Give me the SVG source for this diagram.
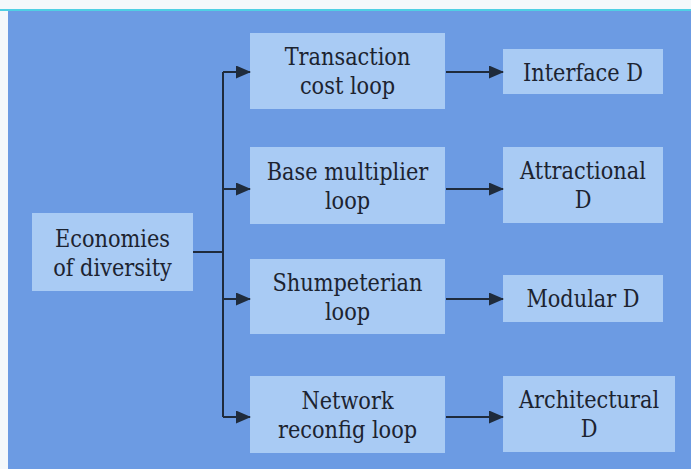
<svg xmlns="http://www.w3.org/2000/svg" width="691" height="469" viewBox="0 0 691 469">
<defs>
<marker id="ah" markerWidth="15" markerHeight="13" refX="14" refY="6.5" orient="auto" markerUnits="userSpaceOnUse">
<path d="M0,0 L15,6.5 L0,13 Z" fill="#1f2b3c"/>
</marker>
<style>
.bg{fill:#6c9be3}
.box{fill:#a9cbf4}
.t{font-family:"DejaVu Serif","Liberation Serif",serif;font-size:24px;fill:#1c2330;text-anchor:middle}
.c{fill:none;stroke:#1f2b3c;stroke-width:2}
</style>
</defs>
<rect x="0" y="0" width="691" height="469" fill="#f4f8fb"/>
<rect x="0" y="9" width="691" height="2" fill="#4fd0e4"/>
<rect class="bg" x="8" y="11" width="683" height="458"/>

<g id="economies">
<rect class="box" x="32" y="213" width="161" height="78"/>
<g transform="translate(112.5,0) scale(0.87,1)">
<text class="t" x="0" y="247">Economies</text>
<text class="t" x="0" y="276">of diversity</text>
</g>
</g>

<g id="transaction">
<rect class="box" x="250" y="33" width="195" height="76"/>
<g transform="translate(347.5,0) scale(0.87,1)">
<text class="t" x="0" y="65">Transaction</text>
<text class="t" x="0" y="94">cost loop</text>
</g>
</g>
<g id="base">
<rect class="box" x="250" y="147" width="195" height="77"/>
<g transform="translate(347.5,0) scale(0.87,1)">
<text class="t" x="0" y="180">Base multiplier</text>
<text class="t" x="0" y="209">loop</text>
</g>
</g>
<g id="shumpeterian">
<rect class="box" x="250" y="259" width="195" height="75"/>
<g transform="translate(347.5,0) scale(0.87,1)">
<text class="t" x="0" y="291">Shumpeterian</text>
<text class="t" x="0" y="320">loop</text>
</g>
</g>
<g id="network">
<rect class="box" x="250" y="376" width="195" height="77"/>
<g transform="translate(347.5,0) scale(0.87,1)">
<text class="t" x="0" y="409">Network</text>
<text class="t" x="0" y="438">reconfig loop</text>
</g>
</g>

<g id="interface">
<rect class="box" x="503" y="49" width="160" height="45"/>
<g transform="translate(583,0) scale(0.87,1)">
<text class="t" x="0" y="81">Interface D</text>
</g>
</g>
<g id="attractional">
<rect class="box" x="503" y="147" width="160" height="76"/>
<g transform="translate(583,0) scale(0.87,1)">
<text class="t" x="0" y="179">Attractional</text>
<text class="t" x="0" y="208">D</text>
</g>
</g>
<g id="modular">
<rect class="box" x="503" y="275" width="160" height="47"/>
<g transform="translate(583,0) scale(0.87,1)">
<text class="t" x="0" y="307">Modular D</text>
</g>
</g>
<g id="architectural">
<rect class="box" x="503" y="376" width="172" height="76"/>
<g transform="translate(589,0) scale(0.87,1)">
<text class="t" x="0" y="408">Architectural</text>
<text class="t" x="0" y="437">D</text>
</g>
</g>

<g id="connectors">
<path class="c" d="M193,252 H223"/>
<path class="c" d="M223,72 V417"/>
<path class="c" d="M223,72 H250" marker-end="url(#ah)"/>
<path class="c" d="M223,189 H250" marker-end="url(#ah)"/>
<path class="c" d="M223,299 H250" marker-end="url(#ah)"/>
<path class="c" d="M223,417 H250" marker-end="url(#ah)"/>
<path class="c" d="M446,72 H503" marker-end="url(#ah)"/>
<path class="c" d="M446,189 H503" marker-end="url(#ah)"/>
<path class="c" d="M446,299 H503" marker-end="url(#ah)"/>
<path class="c" d="M446,417 H503" marker-end="url(#ah)"/>
</g>
</svg>
